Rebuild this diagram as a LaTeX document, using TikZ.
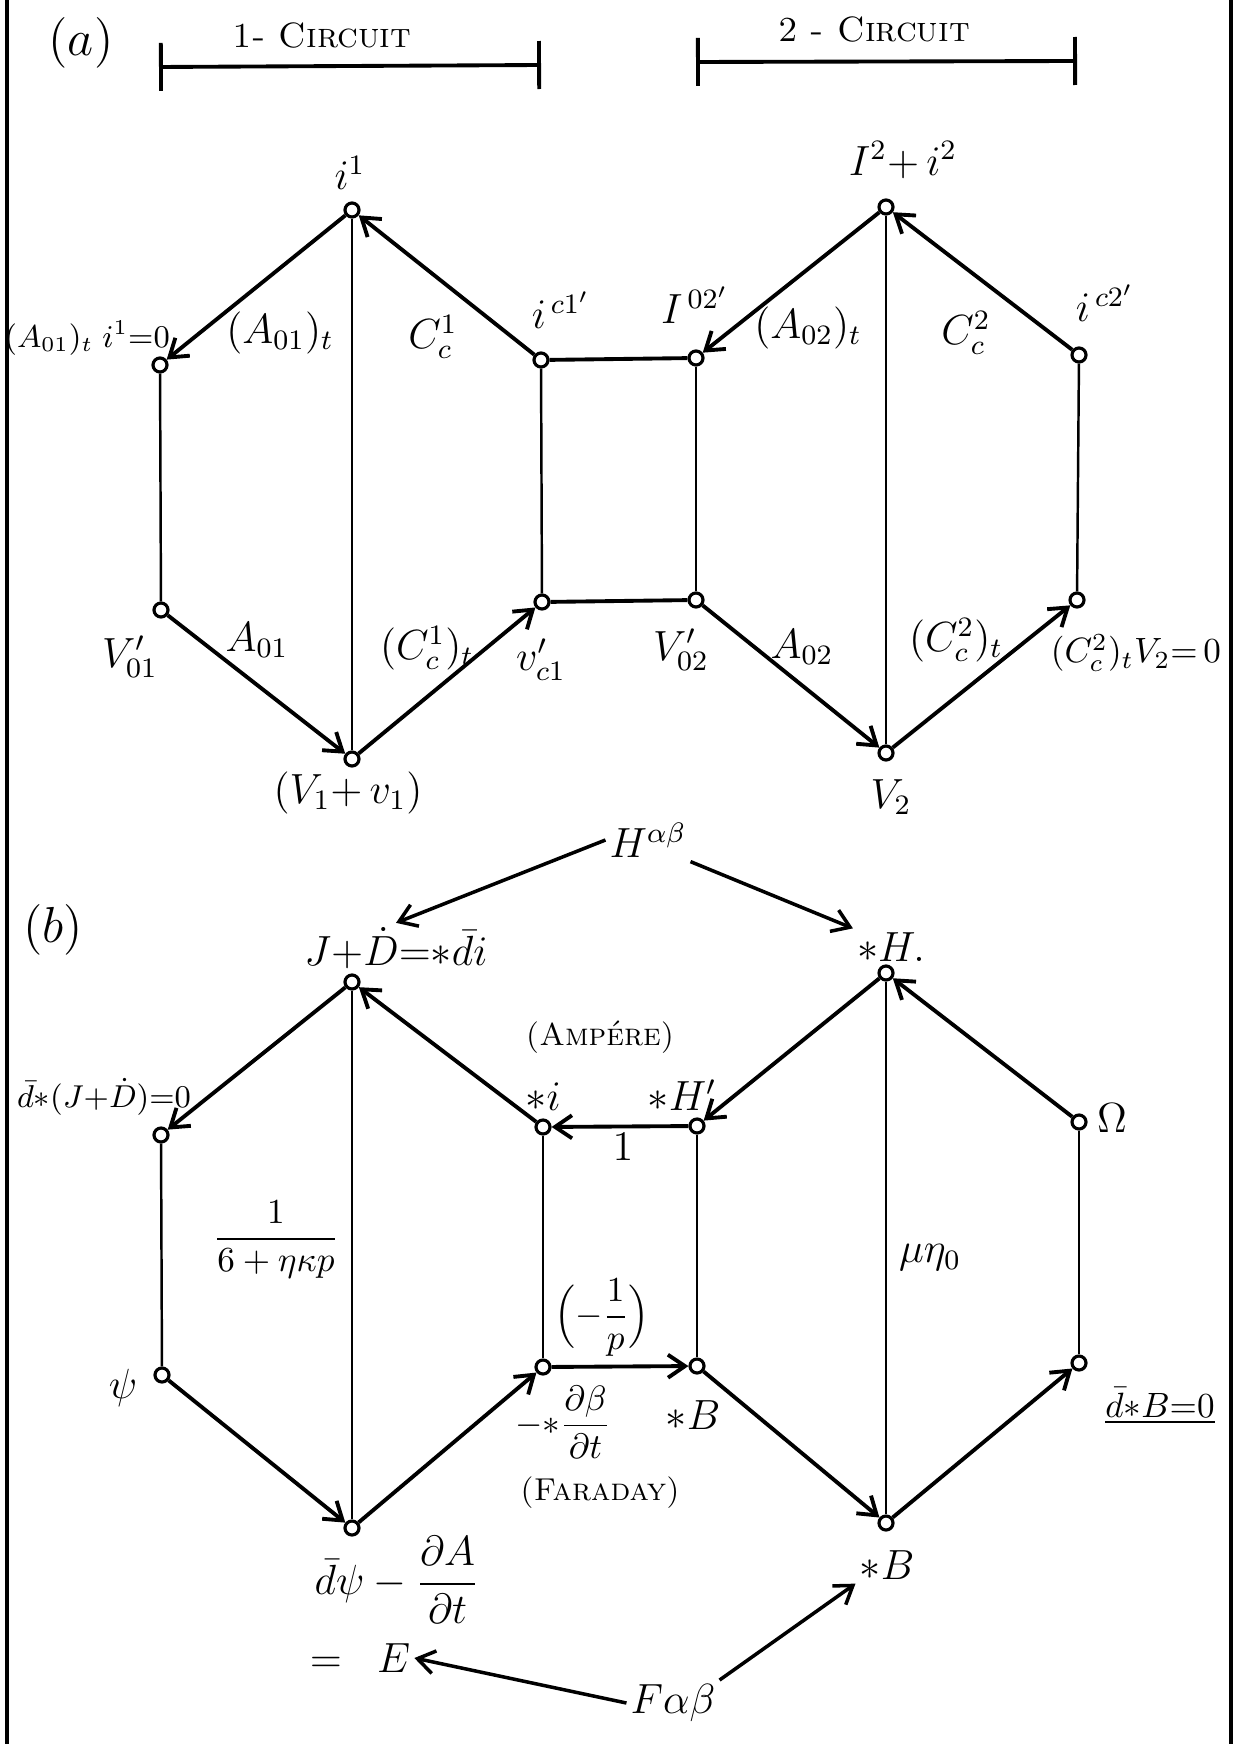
\documentclass[tikz,border=0pt]{standalone}
\usetikzlibrary{arrows.meta}

\begin{document}
\begin{tikzpicture}[
  x=1cm,
  y=1cm,
  >={Straight Barb[length=1.7mm,width=2.3mm]},
  pt/.style={circle, draw, fill=white, line width=0.9pt, inner sep=0pt,
    minimum size=1.4mm},
  lbl/.style={font=\large, inner sep=1pt},
  sml/.style={font=\normalsize, inner sep=1pt},
  title/.style={font=\normalsize, inner sep=1pt},
  wire/.style={line width=1.1pt},
  post/.style={line width=0.7pt},
  flow/.style={wire, ->},
  span/.style={line width=1.1pt, {Bar[width=4.8mm]}-{Bar[width=4.8mm]}},
  field/.style={line width=1pt, ->}
]
\useasboundingbox (0,0) rectangle (12.34,-17.44);
\coordinate (fl1) at (0.07,0);
\coordinate (fl2) at (0.07,-17.44);
\coordinate (fr1) at (12.31,0);
\coordinate (fr2) at (12.31,-17.44);
\draw[line width=1.1pt] (fl1) -- (fl2);
\draw[line width=1.1pt] (fr1) -- (fr2);

\node[lbl, font=\Large] (pa) at (0.81,-0.43) {$(a)$};
\node[title] (c1t) at (3.22,-0.36) {\textsc{1- Circuit}};
\node[title] (c2t) at (8.74,-0.30) {\textsc{2 - Circuit}};
\coordinate (s1l) at (1.59,-0.67);
\coordinate (s1r) at (5.41,-0.65);
\coordinate (s2l) at (6.96,-0.62);
\coordinate (s2r) at (10.77,-0.61);
\draw[span] (s1l) -- (s1r);
\draw[span] (s2l) -- (s2r);

\node[pt] (a1t) at (3.52,-2.10) {};
\node[pt] (a1u) at (1.60,-3.65) {};
\node[pt] (a1l) at (1.61,-6.10) {};
\node[pt] (a1b) at (3.52,-7.59) {};
\node[pt] (ac1u) at (5.41,-3.60) {};
\node[pt] (ac1l) at (5.42,-6.02) {};
\node[pt] (ao2u) at (6.96,-3.58) {};
\node[pt] (ao2l) at (6.96,-6.00) {};
\node[pt] (a2t) at (8.86,-2.07) {};
\node[pt] (a2b) at (8.86,-7.53) {};
\node[pt] (a2u) at (10.79,-3.55) {};
\node[pt] (a2l) at (10.77,-6.00) {};

\draw[post] (a1t) -- (a1b);
\draw[post] (a1u) -- (a1l);
\draw[post] (ac1u) -- (ac1l);
\draw[post] (ao2u) -- (ao2l);
\draw[post] (a2t) -- (a2b);
\draw[post] (a2u) -- (a2l);
\draw[wire] (ac1u) -- (ao2u);
\draw[wire] (ac1l) -- (ao2l);
\draw[flow] (a1t) -- (a1u);
\draw[flow] (ac1u) -- (a1t);
\draw[flow] (a1l) -- (a1b);
\draw[flow] (a1b) -- (ac1l);
\draw[flow] (a2t) -- (ao2u);
\draw[flow] (a2u) -- (a2t);
\draw[flow] (ao2l) -- (a2b);
\draw[flow] (a2b) -- (a2l);

\node[lbl] (ta1t) at (3.50,-1.73) {$i^1$};
\node[sml, font=\small, anchor=east] (ta1u) at (1.74,-3.38) {$(A_{01})_t\;i^1{=}0$};
\node[lbl] (ea1u) at (2.80,-3.33) {$(A_{01})_t$};
\node[lbl] (ea1c) at (4.33,-3.37) {$C^1_c$};
\node[lbl] (tac1u) at (5.61,-3.10) {$i^{\,c1'}$};
\node[lbl] (tao2u) at (6.95,-3.05) {$I^{\,02'}$};
\node[lbl] (ea2o) at (8.08,-3.28) {$(A_{02})_t$};
\node[lbl] (ea2c) at (9.66,-3.33) {$C^2_c$};
\node[lbl] (ta2u) at (11.05,-3.03) {$i^{\,c2'}$};
\node[lbl] (ta2t) at (9.03,-1.60) {$I^2{+}\,i^2$};
\node[lbl] (ta1l) at (1.30,-6.57) {$V'_{01}$};
\node[lbl] (ea1l) at (2.57,-6.40) {$A_{01}$};
\node[lbl] (ea1r) at (4.27,-6.48) {$(C^1_c)_t$};
\node[lbl] (tac1l) at (5.41,-6.60) {$v'_{c1}$};
\node[lbl] (ta1b) at (3.48,-7.93) {$(V_1{+}\,v_1)$};
\node[lbl] (tao2l) at (6.81,-6.50) {$V'_{02}$};
\node[lbl] (ea2l) at (8.02,-6.47) {$A_{02}$};
\node[lbl] (ea2r) at (9.56,-6.40) {$(C^2_c)_t$};
\node[sml] (ta2l) at (11.36,-6.53) {$(C^2_c)_tV_2{=}\,0$};
\node[lbl] (ta2b) at (8.91,-7.97) {$V_2$};

\node[lbl, font=\Large] (pb) at (0.53,-9.30) {$(b)$};
\node[pt] (b1t) at (3.52,-9.82) {};
\node[pt] (b1u) at (1.61,-11.35) {};
\node[pt] (b1l) at (1.62,-13.75) {};
\node[pt] (b1b) at (3.52,-15.28) {};
\node[pt] (bc1u) at (5.43,-11.27) {};
\node[pt] (bc1l) at (5.43,-13.67) {};
\node[pt] (bo2u) at (6.97,-11.26) {};
\node[pt] (bo2l) at (6.97,-13.66) {};
\node[pt] (b2t) at (8.86,-9.73) {};
\node[pt] (b2b) at (8.86,-15.23) {};
\node[pt] (b2u) at (10.79,-11.22) {};
\node[pt] (b2l) at (10.79,-13.63) {};

\draw[post] (b1t) -- (b1b);
\draw[post] (b1u) -- (b1l);
\draw[post] (bc1u) -- (bc1l);
\draw[post] (bo2u) -- (bo2l);
\draw[post] (b2t) -- (b2b);
\draw[post] (b2u) -- (b2l);
\draw[flow] (bo2u) -- (bc1u);
\draw[flow] (bc1l) -- (bo2l);
\draw[flow] (b1t) -- (b1u);
\draw[flow] (bc1u) -- (b1t);
\draw[flow] (b1l) -- (b1b);
\draw[flow] (b1b) -- (bc1l);
\draw[flow] (b2t) -- (bo2u);
\draw[flow] (b2u) -- (b2t);
\draw[flow] (bo2l) -- (b2b);
\draw[flow] (b2b) -- (b2l);

\node[lbl] (hab) at (6.48,-8.40) {$H^{\alpha\beta}$};
\node[lbl] (tb1t) at (3.96,-9.48) {$J{+}\dot D{=}{*}\bar d i$};
\node[lbl] (tb2t) at (8.91,-9.47) {${*}H.$};
\node[sml, font=\small] (tb1u) at (1.04,-10.97) {$\bar d{*}(J{+}\dot D){=}0$};
\node[sml, font=\small] (amp) at (6.00,-10.37) {\textsc{(Ampére)}};
\node[lbl] (tbc1u) at (5.43,-10.97) {${*}i$};
\node[lbl] (tbo2u) at (6.82,-10.95) {${*}H'$};
\node[lbl] (ebu) at (6.23,-11.47) {$1$};
\node[lbl] (tb2u) at (11.12,-11.18) {$\Omega$};
\node[sml] (eb1) at (2.76,-12.40) {$\displaystyle\frac{1}{6+\eta\kappa p}$};
\node[lbl] (eb2) at (9.30,-12.58) {$\mu\eta_0$};
\node[lbl] (tb1l) at (1.23,-13.88) {$\psi$};
\node[sml] (ebl) at (6.02,-13.18) {$\Bigl(-\displaystyle\frac{1}{p}\Bigr)$};
\node[sml] (tbc1l) at (5.63,-14.22) {$-{*}\displaystyle\frac{\partial\beta}{\partial t}$};
\node[lbl] (tbo2l) at (6.93,-14.15) {${*}B$};
\node[sml, font=\small] (far) at (6.00,-14.93) {\textsc{(Faraday)}};
\node[sml] (tb2l) at (11.60,-14.06) {$\underline{\bar d{*}B{=}0}$};
\node[lbl] (tb1b) at (3.97,-15.80) {$\bar d\psi-\displaystyle\frac{\partial A}{\partial t}$};
\node[lbl] (tbe) at (3.60,-16.58) {$=\;\;E$};
\node[lbl] (tb2b) at (8.87,-15.65) {${*}B$};
\node[lbl] (fab) at (6.73,-17.03) {$F\alpha\beta$};

\draw[field] (hab.west) -- (tb1t.north);
\draw[field] (hab.south east) -- (tb2t.north west);
\draw[field] (fab.west) -- (tbe.east);
\draw[field] (fab.north east) -- (tb2b.south west);
\end{tikzpicture}
\end{document}
